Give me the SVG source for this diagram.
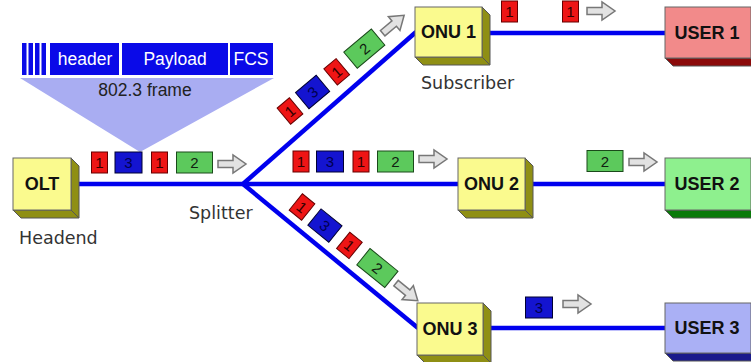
<svg xmlns="http://www.w3.org/2000/svg" width="751" height="362" viewBox="0 0 751 362">
<defs>
<style>
.lbl{font-family:"DejaVu Sans",Verdana,sans-serif;font-size:17.5px;fill:#333}
.box{font-family:"Liberation Sans",Arial,sans-serif;font-weight:bold;font-size:18px;fill:#111;text-anchor:middle}
.hdr{font-family:"Liberation Sans",Arial,sans-serif;font-size:17.5px;fill:#fff;text-anchor:middle}
.ft{font-family:"Liberation Sans",Arial,sans-serif;font-size:17.5px;fill:#222;text-anchor:middle}
.ptx{font-family:"Liberation Sans",Arial,sans-serif;font-size:15px;text-anchor:middle}
.link{stroke:#0000ee;stroke-width:4.5;fill:none}
.yf{fill:#fafa8e;stroke:#666;stroke-width:1}
.ys{fill:#8f8f14;stroke:#555;stroke-width:1}
.rd{fill:#ee1515;stroke:#600;stroke-width:1}
.bl{fill:#1414d0;stroke:#003;stroke-width:1}
.gr{fill:#5cc95c;stroke:#1a4a1a;stroke-width:1}
.arr{fill:#e2e2e2;stroke:#777;stroke-width:1.5}
</style>
<path id="arrow" class="arr" d="M0,-3.5 H15 V-9 L28,0 L15,9 V3.5 H0 Z"/>
<g id="p1"><rect class="rd" x="-8" y="-10.5" width="16" height="21"/><text class="ptx" x="0" y="5.5" fill="#300">1</text></g>
<g id="p3"><rect class="bl" x="-13.5" y="-10.5" width="27" height="21"/><text class="ptx" x="0" y="5.5" fill="#000050">3</text></g>
<g id="p2"><rect class="gr" x="-18" y="-10.5" width="36" height="21"/><text class="ptx" x="0" y="5.5" fill="#102010">2</text></g>
</defs>

<g id="frame">
<polygon points="20,78 274,78 140,152" fill="#a9adf2"/>
<rect x="22" y="43" width="4.5" height="32" fill="#0a0ae8"/>
<rect x="28.5" y="43" width="4.5" height="32" fill="#0a0ae8"/>
<rect x="35" y="43" width="4.5" height="32" fill="#0a0ae8"/>
<rect x="41.5" y="43" width="4.5" height="32" fill="#0a0ae8"/>
<rect x="50" y="43" width="69" height="32" fill="#0a0ae8"/>
<rect x="122" y="43" width="106" height="32" fill="#0a0ae8"/>
<rect x="230" y="43" width="43" height="32" fill="#0a0ae8"/>
<text class="hdr" x="85" y="65">header</text>
<text class="hdr" x="175" y="65">Payload</text>
<text class="hdr" x="251" y="65">FCS</text>
<text class="ft" x="145" y="96">802.3 frame</text>
</g>

<g id="connectors">
<line class="link" x1="71" y1="184" x2="243" y2="184"/>
<line class="link" x1="243" y1="184" x2="416" y2="32"/>
<line class="link" x1="243" y1="184" x2="458" y2="184"/>
<line class="link" x1="243" y1="184" x2="418" y2="328"/>
<line class="link" x1="488" y1="33" x2="666" y2="33"/>
<line class="link" x1="531" y1="184" x2="666" y2="184"/>
<line class="link" x1="489" y1="328" x2="666" y2="328"/>
</g>

<g id="packets">
<use href="#p1" x="99.5" y="162.5"/>
<use href="#p3" x="128.5" y="162.5"/>
<use href="#p1" x="159.5" y="162.5"/>
<use href="#p2" x="194.5" y="162.5"/>
<use href="#arrow" x="218" y="164"/>

<g transform="translate(290,111) rotate(-40)">
<use href="#p1" x="0" y="0"/>
<use href="#p3" x="29.5" y="0"/>
<use href="#p1" x="61" y="0"/>
<use href="#p2" x="97" y="0"/>
<use href="#arrow" x="121" y="0"/>
</g>

<use href="#p1" x="301" y="161.5"/>
<use href="#p3" x="330" y="161.5"/>
<use href="#p1" x="361" y="161.5"/>
<use href="#p2" x="395.5" y="161.5"/>
<use href="#arrow" x="419" y="159"/>

<g transform="translate(302,207) rotate(39)">
<use href="#p1" x="0" y="0"/>
<use href="#p3" x="29.5" y="0"/>
<use href="#p1" x="61" y="0"/>
<use href="#p2" x="97" y="0"/>
<use href="#arrow" x="121" y="0"/>
</g>

<use href="#p1" x="509.5" y="11.5"/>
<use href="#p1" x="570.5" y="11.5"/>
<use href="#arrow" x="587" y="11"/>
<use href="#p2" x="605" y="161"/>
<use href="#arrow" x="629" y="162"/>
<use href="#p3" x="539" y="307.5"/>
<use href="#arrow" x="563" y="304"/>
</g>

<g id="olt">
<polygon class="ys" points="71,158 79,166 79,218 71,210"/>
<polygon class="ys" points="13,210 21,218 79,218 71,210"/>
<rect class="yf" x="13" y="158" width="58" height="52"/>
<text class="box" x="42" y="190">OLT</text>
<text class="lbl" x="19" y="244">Headend</text>
</g>

<g id="splitter">
<text class="lbl" x="189" y="219">Splitter</text>
</g>

<g id="onu1">
<polygon class="ys" points="482,7 490,15 490,65 482,57"/>
<polygon class="ys" points="415,57 423,65 490,65 482,57"/>
<rect class="yf" x="415" y="7" width="67" height="50"/>
<text class="box" x="448.5" y="38">ONU 1</text>
<text class="lbl" x="421" y="89">Subscriber</text>
</g>

<g id="onu2">
<polygon class="ys" points="525,158 533,166 533,218 525,210"/>
<polygon class="ys" points="458,210 466,218 533,218 525,210"/>
<rect class="yf" x="458" y="158" width="67" height="52"/>
<text class="box" x="491.5" y="190">ONU 2</text>
</g>

<g id="onu3">
<polygon class="ys" points="483,303 491,311 491,363 483,355"/>
<polygon class="ys" points="417,355 425,363 491,363 483,355"/>
<rect class="yf" x="417" y="303" width="66" height="52"/>
<text class="box" x="450" y="335">ONU 3</text>
</g>

<g id="user1">
<polygon fill="#8b0a0a" stroke="#555" points="665,58 673,66 760,66 750,58"/>
<rect x="665" y="7" width="86" height="51" fill="#f28a8a" stroke="#666"/>
<text class="box" x="707" y="39">USER 1</text>
</g>

<g id="user2">
<polygon fill="#0a7a0a" stroke="#555" points="665,210 673,218 760,218 750,210"/>
<rect x="665" y="158" width="86" height="52" fill="#8ef08e" stroke="#666"/>
<text class="box" x="707" y="190">USER 2</text>
</g>

<g id="user3">
<polygon fill="#1a1a8c" stroke="#555" points="665,353 673,361 760,361 750,353"/>
<rect x="665" y="303" width="86" height="50" fill="#aab0f5" stroke="#666"/>
<text class="box" x="707" y="334">USER 3</text>
</g>
</svg>
